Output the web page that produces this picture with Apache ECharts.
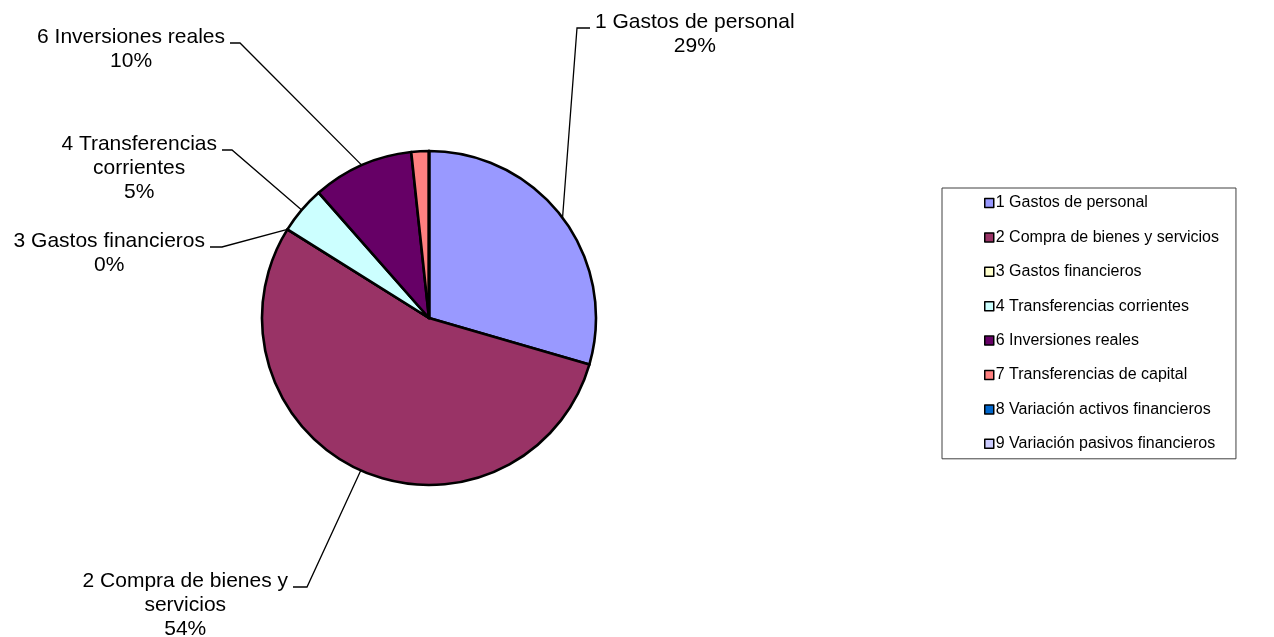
<!DOCTYPE html>
<html>
<head>
<meta charset="utf-8">
<script src="https://cdn.jsdelivr.net/npm/echarts@6/dist/echarts.min.js"></script>
<style>
  html, body { margin: 0; padding: 0; background: #ffffff; }
  #chart { width: 1274px; height: 637px; }
</style>
</head>
<body>
<div id="chart"></div>
<script>
// Budget chapters and their share of total spending (%)
const categories = [
  '1 Gastos de personal',
  '2 Compra de bienes y servicios',
  '3 Gastos financieros',
  '4 Transferencias corrientes',
  '6 Inversiones reales',
  '7 Transferencias de capital',
  '8 Variación activos financieros',
  '9 Variación pasivos financieros'
];
const shares = [29.5, 54.4, 0, 4.6, 9.8, 1.7, 0, 0];
const sliceColors = ['#9999FF', '#993366', '#FFFFCC', '#CCFFFF', '#660066', '#FF8080', '#0066CC', '#CCCCFF'];
// Text used for the outside labels (null = no label)
const labelTexts = [
  '1 Gastos de personal',
  '2 Compra de bienes y\nservicios',
  '3 Gastos financieros',
  '4 Transferencias\ncorrientes',
  '6 Inversiones reales',
  null, null, null
];

// Pie geometry
const CENTER = [429, 318];
const RADIUS = 167;
// Leader line elbows, relative to the pie centre: [bendX, bendY, endX]
const leaders = {
  0: [148, -290, 161],
  1: [-122, 269, -136],
  2: [-207, -71, -219],
  3: [-197, -168, -207],
  4: [-189, -275, -199]
};
const LABEL_GAP = 5;
const LINE_H = 24;

const chart = echarts.init(document.getElementById('chart'), null, { renderer: 'canvas' });

const seriesData = categories.map((name, i) => {
  const item = { name: name, value: shares[i], itemStyle: { color: sliceColors[i] } };
  if (labelTexts[i] === null) {
    item.label = { show: false };
    item.labelLine = { show: false };
  }
  return item;
});

chart.setOption({
  backgroundColor: '#ffffff',
  animation: false,
  legend: {
    orient: 'vertical',
    left: 942,
    top: 188,
    padding: [7, 17, 7, 42],
    borderColor: '#404040',
    borderWidth: 1,
    icon: 'rect',
    itemWidth: 9,
    itemHeight: 9,
    itemGap: 18.4,
    selectedMode: false,
    itemStyle: { borderColor: '#000000', borderWidth: 1.5 },
    textStyle: {
      fontFamily: 'Liberation Sans, Arial, sans-serif',
      fontSize: 16,
      lineHeight: 16,
      color: '#000000',
      padding: [0, 0, 0, -3]
    },
    data: categories
  },
  series: [{
    type: 'pie',
    center: CENTER,
    radius: RADIUS,
    startAngle: 90,
    clockwise: true,
    percentPrecision: 0,
    avoidLabelOverlap: false,
    itemStyle: { borderColor: '#000000', borderWidth: 2.6 },
    emphasis: { disabled: true },
    label: {
      show: true,
      position: 'outside',
      fontFamily: 'Liberation Sans, Arial, sans-serif',
      fontSize: 21,
      lineHeight: LINE_H,
      color: '#000000',
      align: 'center',
      formatter: p => labelTexts[p.dataIndex] + '\n' + p.percent + '%'
    },
    labelLine: {
      show: true,
      lineStyle: { color: '#000000', width: 1.3 }
    },
    labelLayout: function (p) {
      const g = leaders[p.dataIndex];
      if (!g) return {};
      const bx = CENTER[0] + g[0];
      const ly = CENTER[1] + g[1];
      const ex = CENTER[0] + g[2];
      const w = p.labelRect.width;
      const cx = ex > bx ? ex + LABEL_GAP + w / 2 : ex - LABEL_GAP - w / 2;
      return {
        x: cx,
        y: ly - 18,
        align: 'center',
        verticalAlign: 'top',
        labelLinePoints: [p.labelLinePoints[0], [bx, ly], [ex, ly]]
      };
    },
    data: seriesData
  }]
});
</script>
</body>
</html>
